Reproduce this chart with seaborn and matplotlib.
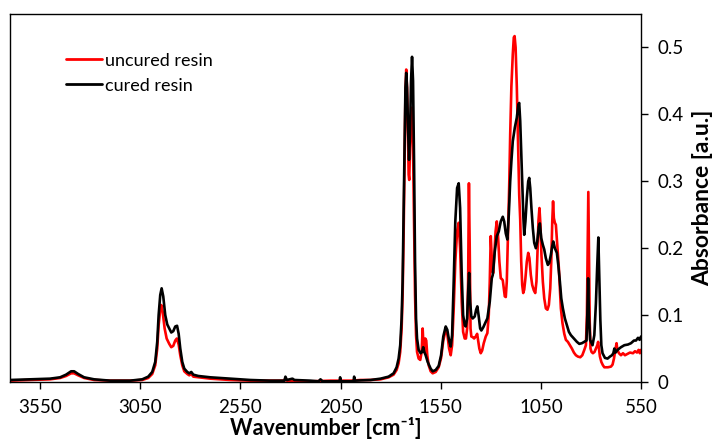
# FTIR spectra of uncured vs cured resin
import pandas as pd
import matplotlib
matplotlib.use('Agg')
import matplotlib.pyplot as plt
import seaborn as sns

sns.set_theme(style='white')
plt.rcParams['font.family'] = ['Lato', 'DejaVu Sans']
plt.rcParams['text.color'] = 'black'
plt.rcParams['axes.labelcolor'] = 'black'
plt.rcParams['xtick.color'] = 'black'
plt.rcParams['ytick.color'] = 'black'

# data (wavenumber in cm-1, absorbance in a.u.)
wn_uncured = [3700, 3600, 3500, 3450, 3420, 3395, 3380, 3360, 3330, 3280, 3200, 3100, 3040, 3010, 2990,
              2975, 2965, 2958, 2950, 2945, 2938, 2928, 2918, 2905, 2895, 2885, 2875, 2867, 2858, 2850,
              2840, 2830, 2815, 2805, 2795, 2785, 2760, 2700, 2600, 2500, 2400, 2330, 2325, 2318, 2200,
              2100, 2000, 1950, 1900, 1850, 1810, 1785, 1770, 1760, 1752, 1745, 1740, 1735, 1730, 1726,
              1722, 1718, 1713, 1710, 1707, 1703, 1698, 1694, 1688, 1683, 1678, 1673, 1668, 1660, 1652,
              1645, 1640, 1636, 1632, 1627, 1622, 1617, 1610, 1600, 1590, 1575, 1560, 1548, 1537, 1525,
              1517, 1508, 1500, 1493, 1485, 1477, 1468, 1460, 1453, 1445, 1438, 1430, 1424, 1418, 1413,
              1409, 1405, 1401, 1397, 1390, 1383, 1375, 1368, 1362, 1357, 1350, 1343, 1335, 1325, 1317,
              1310, 1305, 1300, 1296, 1292, 1287, 1282, 1276, 1270, 1264, 1257, 1250, 1245, 1240, 1235,
              1230, 1225, 1220, 1214, 1208, 1203, 1197, 1190, 1185, 1181, 1176, 1170, 1163, 1158, 1153,
              1148, 1143, 1138, 1133, 1127, 1120, 1113, 1107, 1100, 1093, 1085, 1078, 1072, 1066, 1062,
              1057, 1052, 1047, 1040, 1033, 1025, 1017, 1010, 1003, 998, 993, 989, 985, 980, 975,
              968, 960, 955, 950, 942, 933, 925, 915, 905, 895, 885, 875, 865, 853, 843,
              833, 825, 820, 816, 813, 810, 806, 802, 797, 790, 782, 775, 768, 764, 760,
              755, 748, 740, 733, 715, 700, 692, 685, 678, 672, 668, 660, 650, 640, 630,
              617, 605, 590, 580, 570, 562, 556, 550]
abs_uncured = [0.002, 0.003, 0.004, 0.006, 0.009, 0.013, 0.013, 0.010, 0.006, 0.003, 0.002, 0.002, 0.003, 0.006, 0.012,
               0.025, 0.050, 0.085, 0.108, 0.115, 0.105, 0.080, 0.065, 0.057, 0.052, 0.054, 0.062, 0.065, 0.056, 0.040,
               0.025, 0.016, 0.012, 0.010, 0.012, 0.008, 0.007, 0.005, 0.003, 0.002, 0.002, 0.002, 0.006, 0.002, 0.001,
               0.002, 0.002, 0.003, 0.003, 0.004, 0.007, 0.011, 0.018, 0.028, 0.045, 0.080, 0.130, 0.220, 0.340, 0.430,
               0.467, 0.440, 0.370, 0.310, 0.302, 0.350, 0.400, 0.410, 0.350, 0.240, 0.130, 0.070, 0.045, 0.035, 0.033,
               0.045, 0.080, 0.055, 0.045, 0.065, 0.062, 0.040, 0.025, 0.016, 0.013, 0.015, 0.022, 0.036, 0.062, 0.078,
               0.072, 0.050, 0.040, 0.055, 0.110, 0.180, 0.225, 0.238, 0.200, 0.120, 0.075, 0.065, 0.065, 0.080, 0.150,
               0.297, 0.200, 0.080, 0.068, 0.067, 0.065, 0.068, 0.072, 0.060, 0.050, 0.043, 0.047, 0.058, 0.068, 0.073,
               0.100, 0.150, 0.218, 0.190, 0.165, 0.163, 0.190, 0.225, 0.240, 0.220, 0.180, 0.155, 0.154, 0.152, 0.140,
               0.128, 0.127, 0.150, 0.220, 0.292, 0.370, 0.442, 0.490, 0.515, 0.517, 0.500, 0.442, 0.350, 0.280, 0.243,
               0.180, 0.145, 0.133, 0.138, 0.155, 0.180, 0.193, 0.185, 0.160, 0.145, 0.137, 0.133, 0.150, 0.200, 0.240,
               0.260, 0.235, 0.190, 0.150, 0.125, 0.110, 0.108, 0.115, 0.140, 0.180, 0.240, 0.270, 0.245, 0.238, 0.235,
               0.205, 0.170, 0.140, 0.110, 0.088, 0.072, 0.063, 0.060, 0.055, 0.050, 0.044, 0.040, 0.038, 0.037, 0.040,
               0.048, 0.055, 0.100, 0.200, 0.284, 0.200, 0.090, 0.050, 0.045, 0.043, 0.045, 0.050, 0.055, 0.060, 0.050,
               0.038, 0.030, 0.025, 0.022, 0.022, 0.023, 0.026, 0.035, 0.048, 0.058, 0.048, 0.043, 0.040, 0.043, 0.040,
               0.042, 0.044, 0.043, 0.046, 0.044, 0.048, 0.043, 0.048]

wn_cured = [3700, 3600, 3500, 3450, 3420, 3395, 3380, 3360, 3330, 3280, 3200, 3100, 3040, 3010, 2990,
            2975, 2965, 2958, 2950, 2943, 2935, 2925, 2915, 2905, 2895, 2885, 2875, 2866, 2858, 2850,
            2840, 2830, 2815, 2805, 2795, 2785, 2760, 2700, 2600, 2500, 2400, 2330, 2325, 2318, 2290,
            2280, 2200, 2160, 2150, 2140, 2055, 2052, 2048, 1985, 1982, 1978, 1900, 1850, 1810, 1785,
            1770, 1760, 1752, 1745, 1740, 1735, 1730, 1726, 1722, 1718, 1713, 1708, 1703, 1698, 1693,
            1688, 1683, 1678, 1673, 1668, 1660, 1650, 1643, 1637, 1632, 1625, 1615, 1600, 1590, 1575,
            1560, 1548, 1537, 1525, 1517, 1508, 1500, 1493, 1485, 1477, 1468, 1460, 1453, 1445, 1438,
            1430, 1425, 1418, 1412, 1408, 1403, 1397, 1390, 1380, 1373, 1367, 1360, 1353, 1347, 1337,
            1325, 1317, 1305, 1295, 1290, 1280, 1270, 1260, 1250, 1240, 1233, 1225, 1217, 1210, 1203,
            1197, 1190, 1180, 1170, 1162, 1158, 1153, 1148, 1142, 1137, 1133, 1127, 1120, 1113, 1108,
            1103, 1097, 1090, 1083, 1075, 1068, 1060, 1055, 1048, 1040, 1033, 1025, 1015, 1008, 1000,
            993, 988, 980, 970, 963, 955, 948, 940, 930, 920, 910, 900, 885, 870, 858,
            845, 833, 822, 818, 814, 810, 804, 792, 783, 775, 769, 763, 759, 753, 748,
            742, 730, 717, 705, 695, 688, 683, 677, 667, 650, 633, 615, 600, 585, 575,
            565, 557, 550]
abs_cured = [0.003, 0.004, 0.005, 0.007, 0.011, 0.016, 0.016, 0.012, 0.007, 0.004, 0.002, 0.002, 0.004, 0.008, 0.015,
             0.030, 0.060, 0.100, 0.130, 0.140, 0.128, 0.100, 0.086, 0.080, 0.074, 0.076, 0.083, 0.084, 0.072, 0.050,
             0.030, 0.020, 0.015, 0.013, 0.015, 0.011, 0.009, 0.007, 0.005, 0.003, 0.002, 0.002, 0.008, 0.003, 0.005,
             0.003, 0.002, 0.001, 0.004, 0.001, 0.001, 0.007, 0.001, 0.001, 0.008, 0.002, 0.003, 0.005, 0.008, 0.013,
             0.022, 0.035, 0.055, 0.095, 0.150, 0.250, 0.360, 0.440, 0.462, 0.440, 0.380, 0.332, 0.370, 0.450, 0.486,
             0.450, 0.330, 0.180, 0.095, 0.065, 0.048, 0.043, 0.045, 0.052, 0.045, 0.040, 0.030, 0.020, 0.016, 0.018,
             0.024, 0.040, 0.068, 0.083, 0.078, 0.062, 0.053, 0.070, 0.150, 0.240, 0.290, 0.297, 0.260, 0.160, 0.100,
             0.085, 0.083, 0.095, 0.140, 0.163, 0.120, 0.098, 0.095, 0.098, 0.108, 0.113, 0.098, 0.080, 0.077, 0.082,
             0.090, 0.095, 0.120, 0.155, 0.160, 0.195, 0.218, 0.225, 0.240, 0.247, 0.240, 0.222, 0.213, 0.250, 0.300,
             0.330, 0.360, 0.380, 0.395, 0.415, 0.417, 0.390, 0.340, 0.290, 0.245, 0.220, 0.240, 0.275, 0.300, 0.305,
             0.290, 0.260, 0.230, 0.208, 0.200, 0.210, 0.232, 0.237, 0.215, 0.205, 0.198, 0.185, 0.175, 0.178, 0.190,
             0.203, 0.210, 0.200, 0.193, 0.175, 0.150, 0.125, 0.110, 0.095, 0.085, 0.075, 0.070, 0.065, 0.060, 0.057,
             0.058, 0.060, 0.062, 0.100, 0.155, 0.100, 0.063, 0.055, 0.070, 0.118, 0.170, 0.216, 0.170, 0.093, 0.055,
             0.043, 0.036, 0.035, 0.038, 0.040, 0.043, 0.050, 0.044, 0.048, 0.052, 0.055, 0.056, 0.058, 0.062, 0.062,
             0.066, 0.063, 0.068]

df = pd.concat([
    pd.DataFrame({'wn': wn_uncured, 'abs': abs_uncured, 'sample': 'uncured resin'}),
    pd.DataFrame({'wn': wn_cured, 'abs': abs_cured, 'sample': 'cured resin'}),
])

fig = plt.figure(figsize=(7.12, 4.43), dpi=100)
ax = fig.add_axes([10 / 712, 1 - 382 / 443, 631 / 712, 368 / 443])
sns.lineplot(data=df, x='wn', y='abs', hue='sample', palette={'uncured resin': '#ff0000', 'cured resin': '#000000'},
             linewidth=1.9, estimator=None, ax=ax)

ax.set_xlim(3700, 550)
ax.set_ylim(0, 0.55)
ax.set_xticks([3550, 3050, 2550, 2050, 1550, 1050, 550])
ax.set_yticks([0, 0.1, 0.2, 0.3, 0.4, 0.5])
ax.set_yticklabels(['0', '0.1', '0.2', '0.3', '0.4', '0.5'])
ax.yaxis.tick_right()
ax.yaxis.set_label_position('right')
ax.tick_params(axis='both', direction='out', length=5, width=1, color='black', labelsize=13.5)
ax.tick_params(axis='x', bottom=True, pad=7)
ax.tick_params(axis='y', right=True, left=False, pad=7)
for s in ax.spines.values():
    s.set_color('black')
    s.set_linewidth(1)

ax.set_xlabel('Wavenumber [cm⁻¹]', fontsize=15.5, fontweight='bold', labelpad=1)
ax.set_ylabel('Absorbance [a.u.]', fontsize=16.5, fontweight='bold', labelpad=6)

leg = ax.legend(loc='upper left', bbox_to_anchor=(0.077, 0.915), frameon=False, fontsize=13,
                handlelength=2.0, handletextpad=0.15, labelspacing=0.5, borderaxespad=0)
for line in leg.get_lines():
    line.set_linewidth(2)

fig.savefig('out.png', dpi=100)
